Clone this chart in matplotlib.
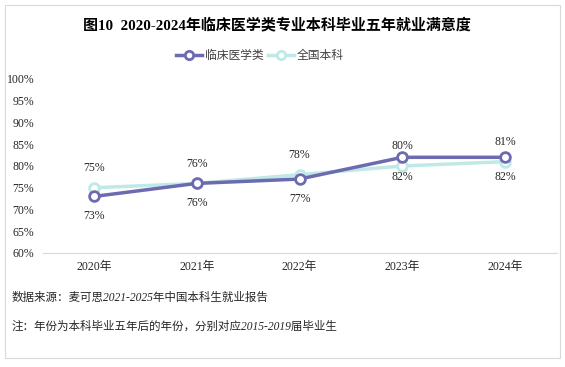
import matplotlib
matplotlib.use("Agg")
import matplotlib.pyplot as plt
from matplotlib.patches import Rectangle
from matplotlib.lines import Line2D

plt.rcParams['font.family'] = ['Liberation Serif', 'Noto Sans CJK SC', 'DejaVu Sans']

years = ['2020年', '2021年', '2022年', '2023年', '2024年']
clinical = [73, 76, 77, 82, 82]
national = [75, 76, 78, 80, 81]
clinical_labels = ['73%', '76%', '77%', '82%', '82%']
national_labels = ['75%', '76%', '78%', '80%', '81%']
yticks = [60, 65, 70, 75, 80, 85, 90, 95, 100]

title = '图10  2020-2024年临床医学类专业本科毕业五年就业满意度'
source = '数据来源：麦可思2021-2025年中国本科生就业报告'
note = '注：年份为本科毕业五年后的年份，分别对应2015-2019届毕业生'

c_purple = '#6D6BAF'
c_cyan = '#BFE9E7'
txt = '#262626'

fig = plt.figure(figsize=(5.65, 3.67), dpi=100)
fig.patch.set_facecolor('white')
fig.add_artist(Rectangle((5/565, 1-358/367), 555/565, 353/367, transform=fig.transFigure,
                         fill=False, edgecolor='#D9D9D9', linewidth=0.8))

ax = fig.add_axes([42.5/565, 1-253/367, 514/565, 174/367])
x = list(range(len(years)))
ax.plot(x, national, color=c_cyan, lw=2.5, marker='o', ms=7, mfc='white', mec=c_cyan, mew=2, zorder=3)
ax.plot(x, clinical, color=c_purple, lw=2.5, marker='o', ms=7, mfc='white', mec=c_purple, mew=2, zorder=4)

for i in x:
    ax.annotate(national_labels[i], (i, national[i]), xytext=(0, 10), textcoords='offset points',
                ha='center', va='bottom', fontsize=8.5, color=txt)
    ax.annotate(clinical_labels[i], (i, clinical[i]), xytext=(0, -10), textcoords='offset points',
                ha='center', va='top', fontsize=8.5, color=txt)

ax.set_xlim(-0.5, len(years) - 0.5)
ax.set_ylim(60, 100)
ax.set_xticks(x)
ax.set_xticklabels(years, fontsize=8.5, color=txt)
ax.set_yticks(yticks)
ax.set_yticklabels([f'{v}%' for v in yticks], fontsize=8.5, color=txt)
ax.tick_params(length=0, pad=6)
for s in ['top', 'right', 'left']:
    ax.spines[s].set_visible(False)
ax.spines['bottom'].set_color('#D9D9D9')
ax.spines['bottom'].set_linewidth(0.8)
ax.set_facecolor('none')

fig.text(277/565, 1-25/367, title, ha='center', va='center', fontsize=10.8, fontweight='bold', color='#000000')

handles = [Line2D([0], [0], color=c_purple, lw=2.5, marker='o', ms=6, mfc='white', mec=c_purple, mew=2),
           Line2D([0], [0], color=c_cyan, lw=2.5, marker='o', ms=6, mfc='white', mec=c_cyan, mew=2)]
fig.legend(handles, ['临床医学类', '全国本科'], loc='center', bbox_to_anchor=(260/565, 1-56/367),
           ncol=2, frameon=False, fontsize=8.5, handlelength=2.2, columnspacing=0.3, handletextpad=0.3,
           labelcolor='#404040')

fig.text(12/565, 1-298/367, source, ha='left', va='center', fontsize=8.3, style='italic', color=txt)
fig.text(12/565, 1-327/367, note, ha='left', va='center', fontsize=8.3, style='italic', color=txt)

fig.savefig('out.png', dpi=100, facecolor='white')
